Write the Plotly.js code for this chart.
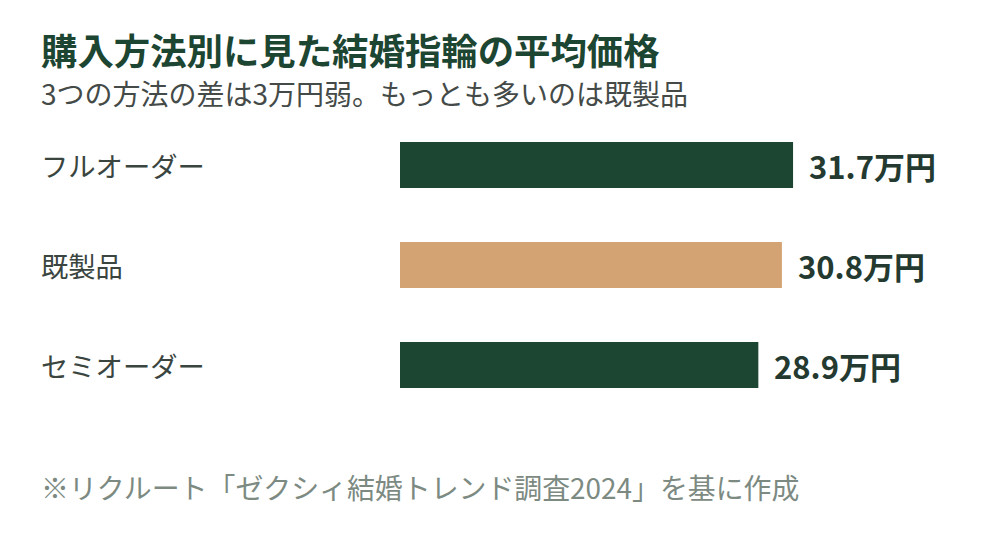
<!DOCTYPE html>
<html>
<head>
<meta charset="utf-8">
<script src="https://cdn.plot.ly/plotly-3.0.1.min.js"></script>
<style>
  html, body { margin: 0; padding: 0; background: #fff; }
  #chart { width: 1000px; height: 548px; }
</style>
</head>
<body>
<div id="chart"></div>
<script>
const categories = ['フルオーダー', '既製品', 'セミオーダー'];
const prices = [31.7, 30.8, 28.9];
const barColors = ['#1c4532', '#d4a373', '#1c4532'];

const FONT = '"Noto Sans CJK JP", "Noto Sans", sans-serif';
const LEFT = -361 / 600;

const trace = {
    type: 'bar',
    orientation: 'h',
    x: prices,
    y: categories,
    marker: { color: barColors },
    hoverinfo: 'none'
};

// value labels to the right of each bar
const valueLabels = prices.map((v, i) => ({
    x: v,
    y: categories[i],
    xref: 'x',
    yref: 'y',
    text: '<b>' + v.toFixed(1) + '万円</b>',
    showarrow: false,
    xanchor: 'left',
    xshift: 14,
    font: { family: FONT, size: 31, color: '#243a30' }
}));

// category names, left aligned
const catLabels = categories.map((c) => ({
    x: LEFT,
    y: c,
    xref: 'paper',
    yref: 'y',
    text: c,
    showarrow: false,
    xanchor: 'left',
    font: { family: FONT, size: 27.3, color: '#3a4540' }
}));

const layout = {
    width: 1000,
    height: 548,
    margin: { l: 400, r: 0, t: 115, b: 133 },
    paper_bgcolor: '#ffffff',
    plot_bgcolor: '#ffffff',
    font: { family: FONT },
    showlegend: false,
    bargap: 0.54,
    xaxis: {
        range: [0, 48.39],
        visible: false,
        fixedrange: true
    },
    yaxis: {
        categoryorder: 'array',
        categoryarray: categories,
        autorange: 'reversed',
        showticklabels: false,
        showgrid: false,
        zeroline: false,
        showline: false,
        ticks: ''
    },
    annotations: [
        ...valueLabels,
        ...catLabels,
        {
            text: '<b>購入方法別に見た結婚指輪の平均価格</b>',
            xref: 'paper', yref: 'paper',
            x: LEFT, y: 1 + (115 - 49) / 300,
            xanchor: 'left', yanchor: 'middle',
            showarrow: false,
            font: { family: FONT, size: 36.4, color: '#1c4532' }
        },
        {
            text: '3つの方法の差は3万円弱。もっとも多いのは既製品',
            xref: 'paper', yref: 'paper',
            x: LEFT, y: 1 + (115 - 93) / 300,
            xanchor: 'left', yanchor: 'middle',
            showarrow: false,
            font: { family: FONT, size: 28, color: '#444a47' }
        },
        {
            text: '※リクルート「ゼクシィ結婚トレンド調査2024」を基に作成',
            xref: 'paper', yref: 'paper',
            x: LEFT, y: -(487 - 415) / 300,
            xanchor: 'left', yanchor: 'middle',
            showarrow: false,
            font: { family: FONT, size: 27.9, color: '#7c8a82' }
        }
    ]
};

Plotly.newPlot('chart', [trace], layout, { displayModeBar: false, staticPlot: true });
</script>
</body>
</html>
